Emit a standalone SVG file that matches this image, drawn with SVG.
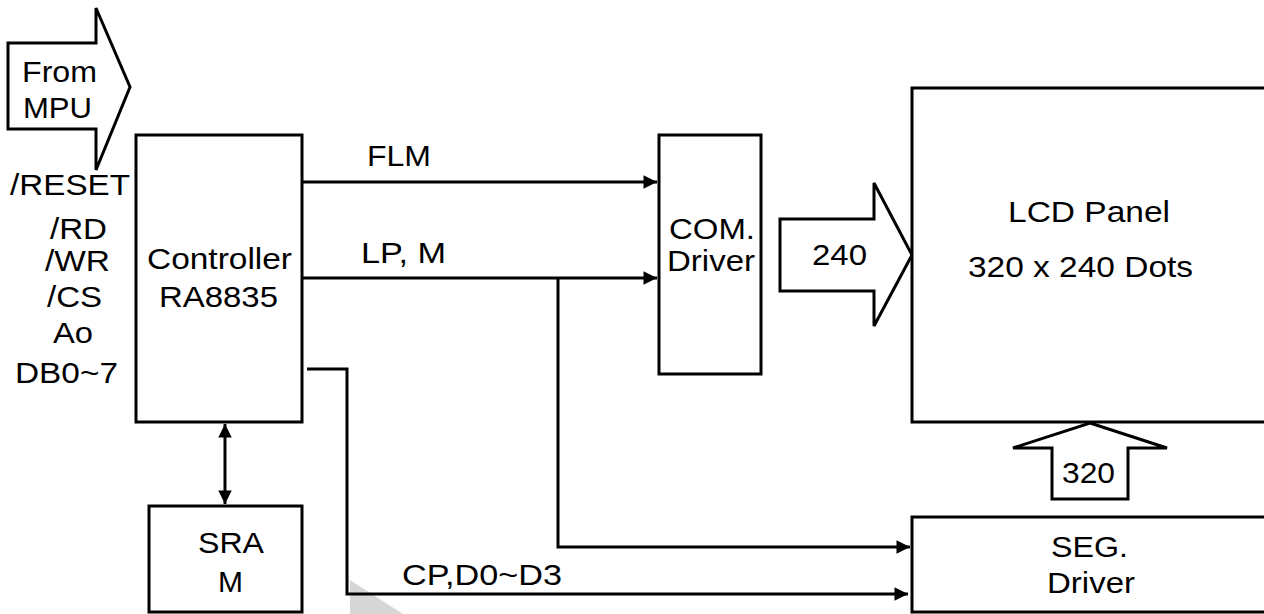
<svg xmlns="http://www.w3.org/2000/svg" width="1264" height="614" viewBox="0 0 1264 614">
<style>
.box{fill:#fff;stroke:#000;stroke-width:3}
.big{fill:#fff;stroke:#000;stroke-width:3;stroke-linejoin:miter}
.ln{fill:none;stroke:#000;stroke-width:3}
text{font-family:"Liberation Sans",Arial,sans-serif;font-size:30px;fill:#000}
</style>
<defs>
<marker id="ah" viewBox="0 0 10 10" refX="10" refY="5" markerWidth="5" markerHeight="4.5" markerUnits="strokeWidth" orient="auto-start-reverse">
<path d="M0,0 L10,5 L0,10 z" fill="#000"/>
</marker>
</defs>
<rect width="1264" height="614" fill="#fff"/>
<polygon points="350,580 350,614 403,614" fill="#d6d6d6"/>

<g id="from-mpu">
<polygon class="big" points="8,43 96,43 96,8 130,87 96,170 96,129 8,129"/>
<text x="22" y="82" textLength="75" lengthAdjust="spacingAndGlyphs">From</text>
<text x="23" y="118" textLength="69" lengthAdjust="spacingAndGlyphs">MPU</text>
</g>

<g id="signals">
<text x="10" y="195" textLength="120" lengthAdjust="spacingAndGlyphs">/RESET</text>
<text x="50" y="239" textLength="57" lengthAdjust="spacingAndGlyphs">/RD</text>
<text x="45" y="271" textLength="65" lengthAdjust="spacingAndGlyphs">/WR</text>
<text x="47" y="307" textLength="55" lengthAdjust="spacingAndGlyphs">/CS</text>
<text x="53" y="343" textLength="40" lengthAdjust="spacingAndGlyphs">Ao</text>
<text x="15" y="383" textLength="103" lengthAdjust="spacingAndGlyphs">DB0~7</text>
</g>

<g id="controller">
<rect class="box" x="136" y="135" width="166" height="287"/>
<text x="147" y="269" textLength="145" lengthAdjust="spacingAndGlyphs">Controller</text>
<text x="159" y="307" textLength="119" lengthAdjust="spacingAndGlyphs">RA8835</text>
</g>

<g id="sram">
<rect class="box" x="149" y="506" width="153" height="106"/>
<text x="198" y="553" textLength="66" lengthAdjust="spacingAndGlyphs">SRA</text>
<text x="218" y="592" textLength="25" lengthAdjust="spacingAndGlyphs">M</text>
</g>

<g id="com-driver">
<rect class="box" x="659" y="135" width="102" height="239"/>
<text x="669" y="239" textLength="86" lengthAdjust="spacingAndGlyphs">COM.</text>
<text x="667" y="271" textLength="88" lengthAdjust="spacingAndGlyphs">Driver</text>
</g>

<g id="bus-240">
<polygon class="big" points="780,219 874,219 874,183 912,255 874,326 874,291 780,291"/>
<text x="812" y="265" textLength="55" lengthAdjust="spacingAndGlyphs">240</text>
</g>

<g id="lcd-panel">
<rect class="box" x="912" y="88" width="360" height="334"/>
<text x="1008" y="222" textLength="162" lengthAdjust="spacingAndGlyphs">LCD Panel</text>
<text x="968" y="277" textLength="225" lengthAdjust="spacingAndGlyphs">320 x 240 Dots</text>
</g>

<g id="bus-320">
<polygon class="big" points="1090,423 1167,448 1128,448 1128,499 1052,499 1052,448 1013,448"/>
<text x="1062" y="483" textLength="53" lengthAdjust="spacingAndGlyphs">320</text>
</g>

<g id="seg-driver">
<rect class="box" x="912" y="517" width="360" height="95"/>
<text x="1051" y="557" textLength="77" lengthAdjust="spacingAndGlyphs">SEG.</text>
<text x="1047" y="593" textLength="88" lengthAdjust="spacingAndGlyphs">Driver</text>
</g>

<g id="connectors">
<line class="ln" x1="302" y1="182" x2="657" y2="182" marker-end="url(#ah)"/>
<line class="ln" x1="302" y1="278" x2="657" y2="278" marker-end="url(#ah)"/>
<polyline class="ln" points="558,278 558,547 910,547" marker-end="url(#ah)"/>
<polyline class="ln" points="307,369 347,369 347,594 908,594" marker-end="url(#ah)"/>
<line class="ln" x1="225" y1="424" x2="225" y2="504" marker-start="url(#ah)" marker-end="url(#ah)"/>
<text x="367" y="166" textLength="64" lengthAdjust="spacingAndGlyphs">FLM</text>
<text x="361" y="263" textLength="85" lengthAdjust="spacingAndGlyphs">LP, M</text>
<text x="402" y="585" textLength="160" lengthAdjust="spacingAndGlyphs">CP,D0~D3</text>
</g>
</svg>
